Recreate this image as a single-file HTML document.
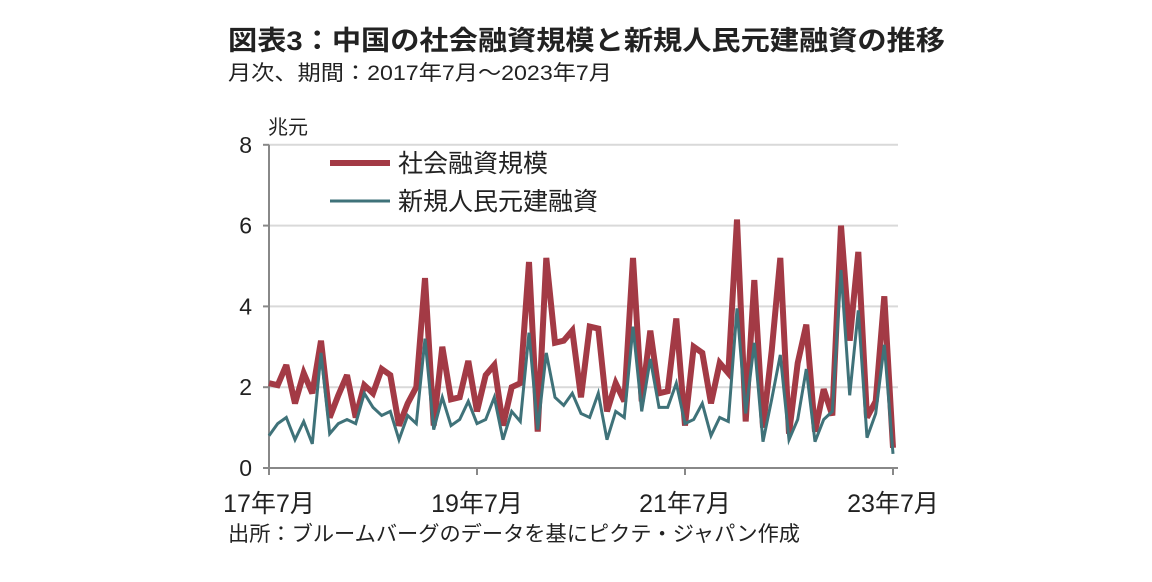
<!DOCTYPE html>
<html><head><meta charset="utf-8"><style>
body{margin:0;background:#fff;width:1152px;height:577px;overflow:hidden;font-family:"Liberation Sans","Noto Sans CJK JP",sans-serif;color:#222}
</style></head><body>
<svg width="1152" height="577">
<text x="228" y="50" font-size="27" font-weight="bold" fill="#222" textLength="717" lengthAdjust="spacingAndGlyphs" style="font-family:'Liberation Sans','Noto Sans CJK JP',sans-serif">図表3：中国の社会融資規模と新規人民元建融資の推移</text>
<text x="228" y="80" font-size="21" fill="#222" textLength="384" lengthAdjust="spacingAndGlyphs" style="font-family:'Liberation Sans','Noto Sans CJK JP',sans-serif">月次、期間：2017年7月～2023年7月</text>
<text x="268" y="134" font-size="20" fill="#222" style="font-family:'Liberation Sans','Noto Sans CJK JP',sans-serif">兆元</text>
<g id="grid"></g><g id="axes"></g><g id="series"></g>
<g>
<line x1="330" y1="163" x2="390" y2="163" stroke="#a33a45" stroke-width="6"/>
<text x="398" y="172" font-size="25" fill="#222" style="font-family:'Liberation Sans','Noto Sans CJK JP',sans-serif">社会融資規模</text>
<line x1="330" y1="201" x2="390" y2="201" stroke="#3f7279" stroke-width="3"/>
<text x="398" y="210" font-size="25" fill="#222" style="font-family:'Liberation Sans','Noto Sans CJK JP',sans-serif">新規人民元建融資</text>
</g>
<text x="228" y="541" font-size="21" fill="#222" textLength="572" lengthAdjust="spacingAndGlyphs" style="font-family:'Liberation Sans','Noto Sans CJK JP',sans-serif">出所：ブルームバーグのデータを基にピクテ・ジャパン作成</text>
</svg>
<script>
const tsf=[2.1,2.05,2.55,1.6,2.35,1.85,3.15,1.25,1.8,2.3,1.25,2.05,1.85,2.45,2.3,1.05,1.6,2.0,4.7,1.05,3.0,1.7,1.75,2.65,1.4,2.3,2.55,1.05,2.0,2.1,5.1,0.9,5.2,3.1,3.15,3.4,1.75,3.5,3.45,1.4,2.1,1.65,5.2,1.65,3.4,1.85,1.9,3.7,1.05,3.0,2.85,1.6,2.6,2.35,6.15,1.15,4.65,1.0,2.9,5.2,0.85,2.6,3.55,0.9,1.95,1.3,6.0,3.15,5.35,1.25,1.65,4.25,0.5];
const loans=[0.8,1.1,1.25,0.7,1.15,0.6,2.85,0.85,1.1,1.2,1.1,1.85,1.5,1.3,1.4,0.7,1.3,1.1,3.2,0.95,1.75,1.05,1.2,1.65,1.1,1.2,1.75,0.7,1.4,1.15,3.35,0.95,2.85,1.75,1.55,1.85,1.35,1.25,1.85,0.7,1.4,1.25,3.5,1.4,2.7,1.5,1.5,2.1,1.1,1.2,1.6,0.8,1.25,1.15,3.95,1.35,3.1,0.65,1.7,2.8,0.7,1.2,2.45,0.65,1.2,1.4,4.9,1.8,3.9,0.75,1.35,3.05,0.35];
const yTicks=[0,2,4,6,8];
const xTickLabels=["17年7月","19年7月","21年7月","23年7月"];
const xTickIdx=[0,24,48,72];
const NS="http://www.w3.org/2000/svg";
const x=i=>269+i*(624/72);
const y=v=>468-v*40.4;
function mk(t,a,p){const e=document.createElementNS(NS,t);for(const k in a)e.setAttribute(k,a[k]);p.appendChild(e);return e;}
const grid=document.getElementById('grid'),axes=document.getElementById('axes'),ser=document.getElementById('series');
const F="font-family:'Liberation Sans','Noto Sans CJK JP',sans-serif";
yTicks.forEach(v=>{
 if(v>0){const g=mk('line',{x1:269,x2:898,y1:y(v),y2:y(v),stroke:'#d9d9d9','stroke-width':2},grid);
 
 }
 const tk=mk('line',{x1:263,x2:269,y1:y(v),y2:y(v),stroke:'#888','stroke-width':2},axes);
 
 
 const t=mk('text',{x:252,y:y(v)+8,'font-size':23,'text-anchor':'end',fill:'#222',style:F},axes);t.textContent=v;
 
 
});
const ya=mk('line',{x1:269,x2:269,y1:y(8),y2:y(0),stroke:'#888','stroke-width':2},axes);


const xa=mk('line',{x1:269,x2:898,y1:y(0),y2:y(0),stroke:'#888','stroke-width':2},axes);


xTickIdx.forEach((i,k)=>{
 const tk=mk('line',{x1:x(i),x2:x(i),y1:y(0),y2:y(0)+7,stroke:'#888','stroke-width':2},axes);
 
 
 const t=mk('text',{x:x(i),y:512,'font-size':25,'text-anchor':'middle',fill:'#222',style:F},axes);t.textContent=xTickLabels[k];
 
 
});
function path(d){return d.map((v,i)=>(i?'L':'M')+x(i).toFixed(1)+' '+y(v).toFixed(1)).join(' ');}
const p1=mk('path',{d:path(tsf),fill:'none',stroke:'#a33a45','stroke-width':6,'stroke-linejoin':'miter','stroke-miterlimit':3},ser);


const p2=mk('path',{d:path(loans),fill:'none',stroke:'#3f7279','stroke-width':3,'stroke-linejoin':'miter'},ser);


</script>
</body></html>
